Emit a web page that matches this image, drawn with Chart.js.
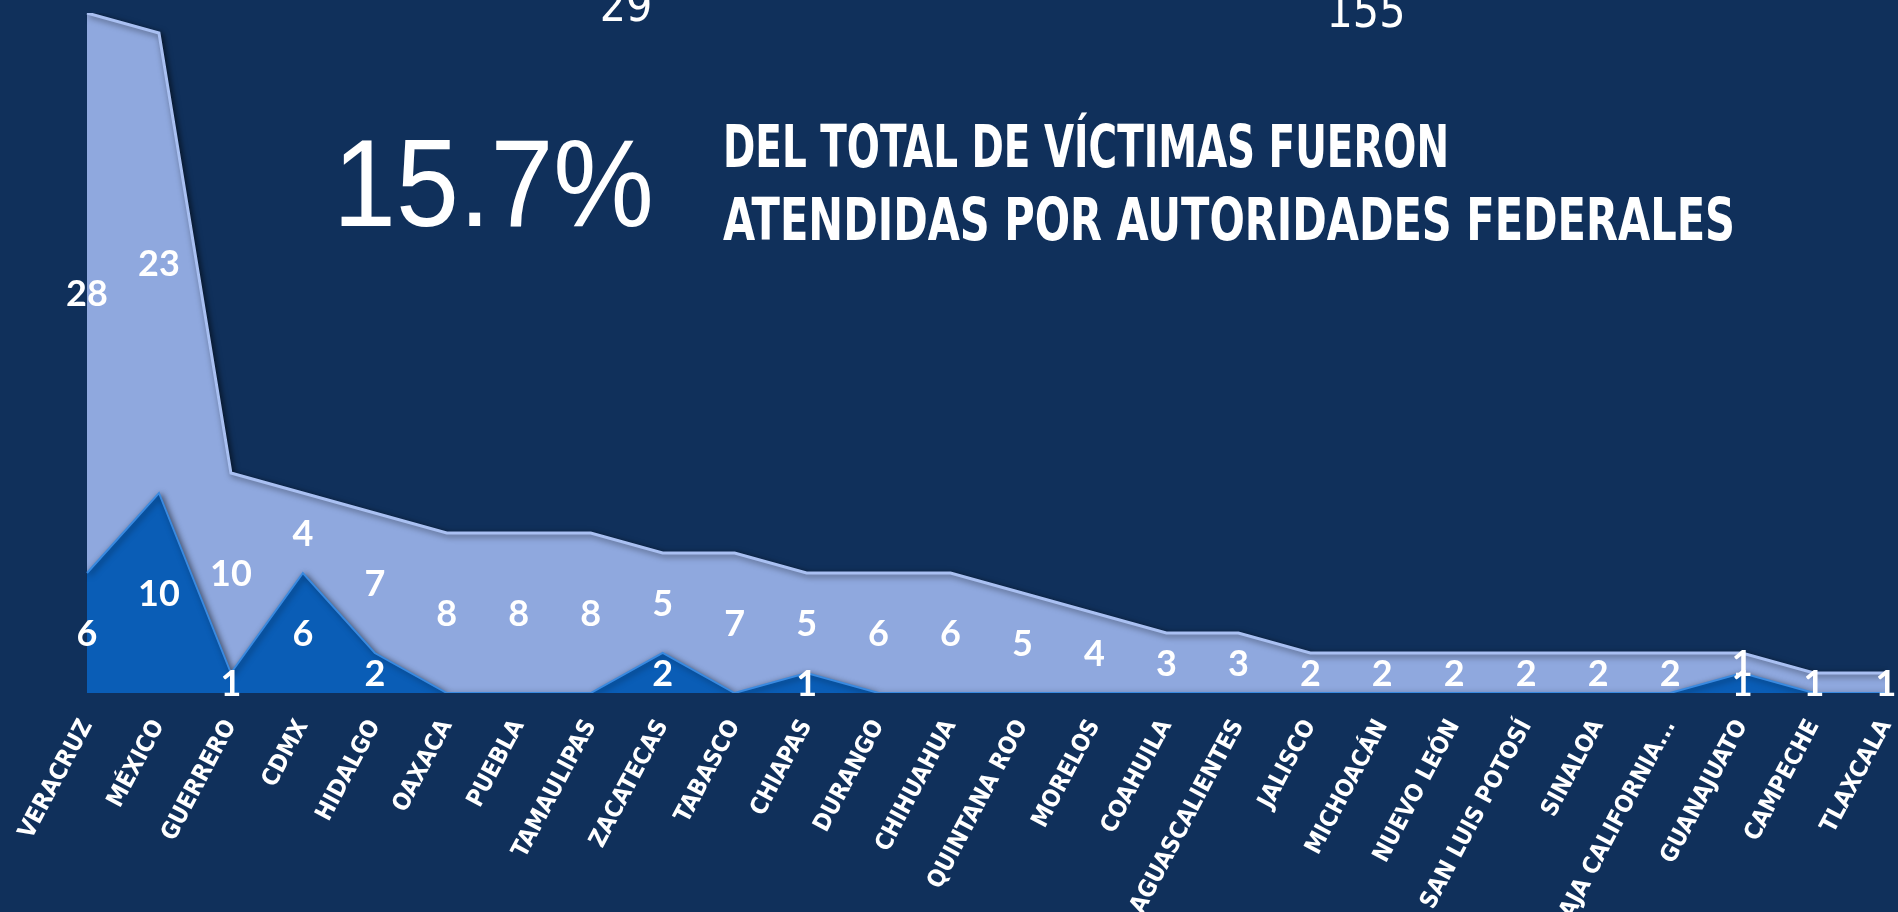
<!DOCTYPE html>
<html>
<head>
<meta charset="utf-8">
<script src="https://cdn.jsdelivr.net/npm/chart.js@4.4.1/dist/chart.umd.min.js"></script>
<style>
html,body{margin:0;padding:0;background:#10305b;overflow:hidden}
#wrap{position:relative;width:1898px;height:912px}
</style>
</head>
<body>
<div id="wrap"><canvas id="c"></canvas></div>
<script>
const categories = ['VERACRUZ','MÉXICO','GUERRERO','CDMX','HIDALGO','OAXACA','PUEBLA','TAMAULIPAS','ZACATECAS','TABASCO','CHIAPAS','DURANGO','CHIHUAHUA','QUINTANA ROO','MORELOS','COAHUILA','AGUASCALIENTES','JALISCO','MICHOACÁN','NUEVO LEÓN','SAN LUIS POTOSÍ','SINALOA','BAJA CALIFORNIA...','GUANAJUATO','CAMPECHE','TLAXCALA'];
const federalValues = [6,10,1,6,2,0,0,0,2,0,1,0,0,0,0,0,0,0,0,0,0,0,0,1,0,0];
const localValues   = [28,23,10,4,7,8,8,8,5,7,5,6,6,5,4,3,3,2,2,2,2,2,2,1,1,1];
const headlinePercent = '15.7%';
const headlineLines = ['DEL TOTAL DE VÍCTIMAS FUERON','ATENDIDAS POR AUTORIDADES FEDERALES'];
const federalTotal = federalValues.reduce((a,b)=>a+b,0);
const localTotal = localValues.reduce((a,b)=>a+b,0);

const NARROW = '"Liberation Sans Narrow", "DejaVu Sans Condensed", "Liberation Sans", sans-serif';

function drawFitted(ctx, text, x, baseline, width, font){
  ctx.font = font;
  const w = ctx.measureText(text).width;
  ctx.save();
  ctx.translate(x, baseline);
  ctx.scale(width / w, 1);
  ctx.textAlign = 'left';
  ctx.textBaseline = 'alphabetic';
  ctx.fillText(text, 0, 0);
  ctx.restore();
}

const effectsPlugin = {
  id: 'effects',
  beforeDatasetsDraw(chart){
    const ctx = chart.ctx;
    ctx.save();
    ctx.shadowColor = 'rgba(0,0,0,0.55)';
    ctx.shadowBlur = 6;
    ctx.shadowOffsetX = 2;
    ctx.shadowOffsetY = 2;
  },
  afterDatasetsDraw(chart){
    const ctx = chart.ctx;
    ctx.restore();
    const xs = chart.scales.x, ys = chart.scales.y;
    ctx.save();
    ctx.fillStyle = '#ffffff';
    ctx.font = 'bold 36px Lato, "Open Sans", sans-serif';
    ctx.textAlign = 'center';
    ctx.textBaseline = 'middle';
    categories.forEach((c, i) => {
      let base = 0;
      [federalValues, localValues].forEach(arr => {
        const v = arr[i];
        if (v > 0) {
          ctx.fillText(String(v), xs.getPixelForValue(i), ys.getPixelForValue(base + v / 2) + 1);
        }
        base += v;
      });
    });
    ctx.restore();
  },
  afterDraw(chart){
    const ctx = chart.ctx;
    ctx.save();
    ctx.fillStyle = '#ffffff';
    drawFitted(ctx, headlinePercent, 333, 226, 321, '125px "Liberation Sans", Arial, sans-serif');
    drawFitted(ctx, headlineLines[0], 723, 167, 726, 'bold 58px ' + NARROW);
    drawFitted(ctx, headlineLines[1], 723, 240, 1012, 'bold 58px ' + NARROW);
    ctx.font = '46px ' + NARROW;
    ctx.textAlign = 'center';
    ctx.textBaseline = 'alphabetic';
    ctx.fillText(String(federalTotal), 626, 21);
    ctx.fillText(String(localTotal), 1366, 27);
    ctx.restore();
  }
};

new Chart(document.getElementById('c'), {
  type: 'line',
  data: {
    labels: categories,
    datasets: [
      {
        label: 'Federal',
        data: federalValues,
        fill: 'origin',
        backgroundColor: '#0a5db6',
        borderColor: '#3a8ae0',
        borderWidth: 2,
        pointRadius: 0,
        tension: 0
      },
      {
        label: 'Local',
        data: localValues,
        fill: '-1',
        backgroundColor: '#8fa8de',
        borderColor: '#a9c0f2',
        borderWidth: 3,
        pointRadius: 0,
        tension: 0
      }
    ]
  },
  options: {
    responsive: true,
    maintainAspectRatio: false,
    animation: false,
    layout: { padding: { top: 13, left: 87, right: 12, bottom: 0 } },
    plugins: { legend: { display: false }, tooltip: { enabled: false } },
    scales: {
      x: {
        grid: { display: false, drawTicks: false },
        border: { display: false },
        ticks: {
          color: '#ffffff',
          autoSkip: false,
          minRotation: 62,
          maxRotation: 62,
          padding: 22,
          font: { family: NARROW, size: 24, weight: 'bold' }
        },
        afterFit(scale){
          scale.height = 219;
          scale.paddingLeft = 0;
          scale.paddingRight = 0;
        }
      },
      y: { display: false, stacked: true, min: 0, max: 34 }
    }
  },
  plugins: [effectsPlugin]
});
</script>
</body>
</html>
